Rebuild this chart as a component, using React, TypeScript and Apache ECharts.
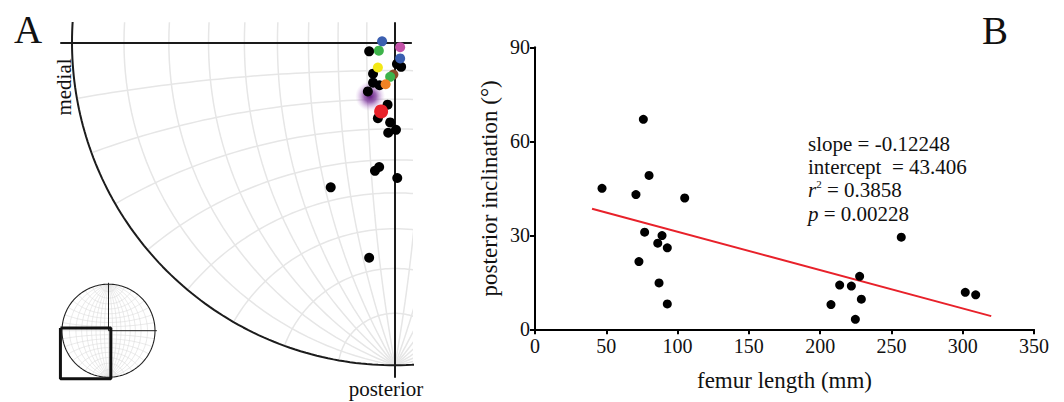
import React, { useEffect, useRef } from 'react';
import * as echarts from 'echarts';

// ---------- Panel B data ----------
const femurLength = [47, 76, 80, 70.8, 105, 76.9, 89.1, 86.1, 92.8, 72.9, 87, 92.8, 256.9, 227.7, 213.7, 221.9, 301.8, 309.1, 228.9, 207.6, 224.7];
const inclination = [45, 67, 49.1, 43, 41.9, 31, 29.9, 27.5, 26, 21.6, 14.8, 8.1, 29.4, 16.9, 14.1, 13.8, 11.8, 11, 9.6, 7.9, 3.2];
const fitX = [40, 320];
const fitY = [38.5, 4.2];
const xTickRange = [0, 350, 50];
const yTickRange = [0, 90, 30];
const statLines = ['slope = -0.12248', 'intercept  = 43.406', '{i|r}{sup|2} = 0.3858', '{i|p} = 0.00228'];

// ---------- Panel A data (stereonet coordinates, unit primitive circle) ----------
const blackX = [-0.080, 0.006, 0.019, -0.068, -0.068, -0.048, -0.084, -0.023, -0.053, -0.015, 0.003, -0.021, -0.049, -0.062, 0.007, -0.199, -0.080];
const blackY = [-0.028, -0.067, -0.076, -0.097, -0.125, -0.133, -0.152, -0.193, -0.235, -0.248, -0.271, -0.280, -0.386, -0.398, -0.420, -0.449, -0.667];
const colorX = [-0.040, 0.016, -0.050, 0.016, -0.053, -0.005, -0.015, -0.029, -0.043];
const colorY = [0.003, -0.015, -0.026, -0.050, -0.078, -0.100, -0.107, -0.130, -0.214];
const colorNames = ['blue', 'magenta', 'green', 'blue', 'yellow', 'brown', 'green', 'orange', 'red'];
const glowPoint = [-0.077, -0.167];
const netStepsDeg = [10, 20, 30, 40, 50, 60, 70, 80];

// ---------- layout / style ----------
const SERIF = '"Liberation Serif", "Times New Roman", serif';
const PALETTE: Record<string, string> = {
  blue: '#3b5fb0', magenta: '#c452a8', green: '#3db34a', yellow: '#f3e816',
  brown: '#8b4a26', orange: '#f08224', red: '#e8222a',
};
const A_CX = 395, A_CY = 42.3, A_R = 323;
const NET_X = [-1.034, 0.05];
const NET_Y = [-1.036, 0.06];
const I_CX = 108.5, I_CY = 330.7, I_R = 46.5, I_EXT = 1.2;

const rad = (d: number) => (d * Math.PI) / 180;
function arc(cx: number, cy: number, r: number, a0: number, a1: number, n = 90): number[][] {
  const pts: number[][] = [];
  for (let i = 0; i <= n; i++) {
    const t = rad(a0 + ((a1 - a0) * i) / n);
    pts.push([cx + r * Math.cos(t), cy + r * Math.sin(t)]);
  }
  return pts;
}
const mirX = (p: number[][]) => p.map(([x, y]) => [-x, y]);
const mirY = (p: number[][]) => p.map(([x, y]) => [x, -y]);

function netCurves(full: boolean): number[][][] {
  const curves: number[][][] = [];
  netStepsDeg.forEach((d) => {
    const g = arc(Math.tan(rad(d)), 0, 1 / Math.cos(rad(d)), 90 + d, 270 - d);
    curves.push(g, mirX(g));
    const s = arc(0, -1 / Math.cos(rad(d)), Math.tan(rad(d)), d, 180 - d);
    curves.push(s);
    if (full) curves.push(mirY(s));
  });
  if (full) {
    curves.push([[0, -1], [0, 1]], [[-1, 0], [1, 0]]);
  }
  return curves;
}

function lineSeries(data: number[][], idx: number, color: string, width: number, z: number) {
  return {
    type: 'line', xAxisIndex: idx, yAxisIndex: idx, data, showSymbol: false, symbol: 'none',
    lineStyle: { color, width }, silent: true, clip: true, z, animation: false,
  };
}

function buildOption(): any {
  const series: any[] = [];
  // main net
  netCurves(false).forEach((c) => series.push(lineSeries(c, 0, '#e6e6e6', 1.5, 1)));
  series.push(lineSeries(arc(0, 0, 1, 0, 360, 360), 0, '#1c1c1c', 2, 2));
  // glow
  series.push({
    type: 'scatter', xAxisIndex: 0, yAxisIndex: 0, data: [glowPoint], symbolSize: 30, z: 4, silent: true,
    itemStyle: {
      opacity: 1,
      color: {
        type: 'radial', x: 0.5, y: 0.5, r: 0.5,
        colorStops: [
          { offset: 0, color: 'rgba(95,25,125,1)' },
          { offset: 0.4, color: 'rgba(125,55,155,0.75)' },
          { offset: 0.75, color: 'rgba(175,120,200,0.3)' },
          { offset: 1, color: 'rgba(210,170,225,0)' },
        ],
      },
    },
  });
  series.push({
    type: 'scatter', xAxisIndex: 0, yAxisIndex: 0, symbolSize: 10, z: 5, silent: true,
    data: blackX.map((x, i) => [x, blackY[i]]), itemStyle: { color: '#000', opacity: 1 },
  });
  series.push({
    type: 'scatter', xAxisIndex: 0, yAxisIndex: 0, z: 6, silent: true,
    data: colorX.map((x, i) => ({
      value: [x, colorY[i]],
      symbolSize: colorNames[i] === 'red' ? 14 : 10,
      itemStyle: { color: PALETTE[colorNames[i]], opacity: 1 },
    })),
  });

  // inset net
  netCurves(true).forEach((c) => series.push(lineSeries(c, 1, '#dadada', 0.6, 1)));
  series.push(lineSeries(arc(0, 0, 1, 0, 360, 200), 1, '#222', 1.1, 2));
  series.push(lineSeries([[0, 1.03], [0, 0]], 1, '#222', 1, 3));
  series.push(lineSeries([[0, 0], [1.04, 0]], 1, '#222', 1, 3));
  series.push(lineSeries([
    [NET_X[0], NET_Y[1]], [NET_X[1], NET_Y[1]], [NET_X[1], NET_Y[0]], [NET_X[0], NET_Y[0]], [NET_X[0], NET_Y[1]],
  ], 1, '#111', 3, 4));

  // panel B
  series.push({
    type: 'line', xAxisIndex: 2, yAxisIndex: 2, data: fitX.map((x, i) => [x, fitY[i]]),
    showSymbol: false, symbol: 'none', lineStyle: { color: '#e8212a', width: 2 }, z: 3, silent: true,
  });
  series.push({
    type: 'scatter', xAxisIndex: 2, yAxisIndex: 2, data: femurLength.map((x, i) => [x, inclination[i]]),
    symbolSize: 9, itemStyle: { color: '#000', opacity: 1 }, z: 4, silent: true,
  });

  const hiddenAxis = (gi: number, min: number, max: number) => ({
    gridIndex: gi, type: 'value', min, max, show: false,
  });
  const netAxis = (min: number, max: number) => ({
    gridIndex: 0, type: 'value', min, max, z: 3,
    axisLine: { show: true, onZero: true, lineStyle: { color: '#1a1a1a', width: 2 } },
    axisTick: { show: false }, axisLabel: { show: false }, splitLine: { show: false },
  });
  const bAxisCommon = {
    gridIndex: 2, type: 'value',
    axisLine: { show: true, onZero: false, lineStyle: { color: '#000', width: 2 } },
    axisTick: { show: true, length: 5, lineStyle: { color: '#000', width: 2 } },
    axisLabel: { fontSize: 20, color: '#111', fontFamily: SERIF },
    splitLine: { show: false },
    nameLocation: 'middle',
    nameTextStyle: { fontSize: 23, color: '#111', fontFamily: SERIF },
  };

  return {
    animation: false,
    backgroundColor: '#fff',
    grid: [
      {
        left: A_CX + NET_X[0] * A_R, top: A_CY - NET_Y[1] * A_R,
        width: (NET_X[1] - NET_X[0]) * A_R, height: (NET_Y[1] - NET_Y[0]) * A_R,
      },
      { left: I_CX - I_EXT * I_R, top: I_CY - I_EXT * I_R, width: 2 * I_EXT * I_R, height: 2 * I_EXT * I_R },
      { left: 535, top: 47.3, width: 499, height: 282 },
    ],
    xAxis: [
      netAxis(NET_X[0], NET_X[1]),
      hiddenAxis(1, -I_EXT, I_EXT),
      {
        ...bAxisCommon, min: xTickRange[0], max: xTickRange[1], interval: xTickRange[2],
        name: 'femur length (mm)', nameGap: 40,
        axisLabel: { ...bAxisCommon.axisLabel, margin: 7 },
      },
    ],
    yAxis: [
      netAxis(NET_Y[0], NET_Y[1]),
      hiddenAxis(1, -I_EXT, I_EXT),
      {
        ...bAxisCommon, min: yTickRange[0], max: yTickRange[1], interval: yTickRange[2],
        name: 'posterior inclination (°)', nameGap: 34,
        axisLabel: { ...bAxisCommon.axisLabel, margin: 5 },
      },
    ],
    series,
    graphic: [
      { type: 'text', x: 28, y: 29, silent: true, style: { text: 'A', fontSize: 39, fontFamily: SERIF, fill: '#111', align: 'center', verticalAlign: 'middle' } },
      { type: 'text', x: 995, y: 30, silent: true, style: { text: 'B', fontSize: 39, fontFamily: SERIF, fill: '#111', align: 'center', verticalAlign: 'middle' } },
      { type: 'text', x: 64, y: 87, rotation: Math.PI / 2, silent: true, style: { text: 'medial', fontSize: 21, fontFamily: SERIF, fill: '#111', align: 'center', verticalAlign: 'middle' } },
      { type: 'text', x: 386, y: 389, silent: true, style: { text: 'posterior', fontSize: 21, fontFamily: SERIF, fill: '#111', align: 'center', verticalAlign: 'middle' } },
      {
        type: 'text', x: 808, y: 132, silent: true,
        style: {
          text: statLines.join('\n'), fontSize: 21, fontFamily: SERIF, fill: '#111', lineHeight: 23.3,
          align: 'left', verticalAlign: 'top',
          rich: {
            i: { fontSize: 21, fontFamily: SERIF, fontStyle: 'italic', fill: '#111', lineHeight: 23.3 },
            sup: { fontSize: 11, fontFamily: SERIF, fill: '#111', verticalAlign: 'top', lineHeight: 23.3, padding: [0, 0, 9, 0] },
          },
        },
      },
    ],
  };
}

export default function App() {
  const ref = useRef<HTMLDivElement>(null);
  useEffect(() => {
    if (!ref.current) return;
    const chart = echarts.init(ref.current, null, { renderer: 'svg' });
    chart.setOption(buildOption());
    return () => chart.dispose();
  }, []);
  return (
    <div
      ref={ref}
      style={{ position: 'fixed', left: 0, top: 0, width: 1064, height: 402, background: '#fff' }}
    />
  );
}
